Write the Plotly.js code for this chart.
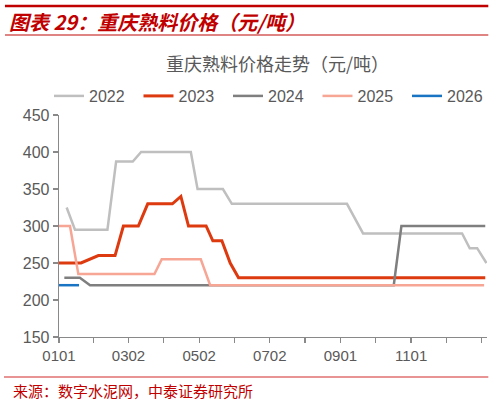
<!DOCTYPE html>
<html>
<head>
<meta charset="utf-8">
<script src="https://cdn.plot.ly/plotly-3.0.1.min.js"></script>
<style>
html,body{margin:0;padding:0;background:#fff;}
#chart{width:493px;height:400px;}
</style>
</head>
<body>
<div id="chart"></div>
<script>
// x = days since Jan 1 (0101 = 0)
const seriesNames = ['2022', '2023', '2024', '2025', '2026'];

const x2022 = [6.6, 13.8, 41.8, 49.3, 63.7, 70.9, 113.8, 119.6, 141.5, 149.2, 248.6, 262.5, 348, 354.6, 361, 369];
const y2022 = [325, 295, 295, 387, 387, 400, 400, 350, 350, 330, 330, 290, 290, 270, 270, 250];

const x2023 = [0, 19, 34, 48.4, 55.6, 68.5, 76.6, 97.9, 105.2, 111.8, 127, 132.8, 140.6, 147.8, 155, 368];
const y2023 = [250, 250, 260, 260, 300, 300, 330, 330, 340, 300, 300, 280, 280, 250, 230, 230];

const x2024 = [4.6, 18, 26.8, 289, 295.6, 368];
const y2024 = [230, 230, 220, 220, 300, 300];

const x2025 = [0, 9.5, 16.7, 82.4, 88.7, 122.4, 130.5, 367];
const y2025 = [300, 300, 235, 235, 255, 255, 220, 220];

const x2026 = [0, 17.3];
const y2026 = [220, 220];

const tickDays = [0, 30, 60, 90.5, 121, 151.5, 182, 212.5, 243, 273.5, 304, 334.5, 365];
const tickLabels = ['0101', '', '0302', '', '0502', '', '0702', '', '0901', '', '1101', '', ''];

const chartTitle = '重庆熟料价格走势（元/吨）';
const figTitle = '图表 29：重庆熟料价格（元/吨）';
const sourceText = '来源：数字水泥网，中泰证券研究所';

const colors = ['#bfbfbf', '#dd3a10', '#7f7f7f', '#f7a594', '#1a74c4'];
const widths = [2.5, 3, 2.5, 2.5, 2.5];
const xs = [x2022, x2023, x2024, x2025, x2026];
const ys = [y2022, y2023, y2024, y2025, y2026];

const traces = seriesNames.map((n, i) => ({
  type: 'scatter', mode: 'lines', name: n,
  x: xs[i], y: ys[i],
  line: {color: colors[i], width: widths[i]},
  hoverinfo: 'skip'
}));

const font = 'Liberation Sans, Arial, sans-serif';
const cjk = 'Noto Sans CJK SC, sans-serif';

const ML = 59, MR = 6.3, MT = 115, MB = 63, W = 493, H = 400;
function px2paperX(px) { return (px - ML) / (W - ML - MR); }
function px2paperY(py) { return (H - MB - py) / (H - MT - MB); }

const layout = {
  width: W, height: H,
  margin: {l: ML, r: MR, t: MT, b: MB, autoexpand: false},
  paper_bgcolor: '#fff', plot_bgcolor: '#fff',
  showlegend: true,
  legend: {
    orientation: 'h', xref: 'paper', yref: 'paper',
    x: px2paperX(49), y: px2paperY(96), xanchor: 'left', yanchor: 'middle',
    entrywidth: 44.5, entrywidthmode: 'pixels',
    font: {family: font, size: 16, color: '#595959'},
    bgcolor: 'rgba(0,0,0,0)', traceorder: 'normal'
  },
  xaxis: {
    range: [0, 369.5], showgrid: false, zeroline: false,
    showline: true, linecolor: '#898989', linewidth: 1.3,
    ticks: 'outside', ticklen: 5, tickcolor: '#898989', tickwidth: 1.3,
    tickmode: 'array', tickvals: tickDays, ticktext: tickLabels,
    tickfont: {family: font, size: 15, color: '#595959'}
  },
  yaxis: {
    range: [150, 450], dtick: 50, showgrid: false, zeroline: false,
    showline: true, linecolor: '#898989', linewidth: 1.3,
    ticks: 'outside', ticklen: 5, tickcolor: '#898989', tickwidth: 1.3,
    tickfont: {family: font, size: 16, color: '#595959'}
  },
  shapes: [
    {type: 'line', xref: 'paper', yref: 'paper', x0: px2paperX(5), x1: px2paperX(488), y0: px2paperY(6), y1: px2paperY(6), line: {color: '#c00000', width: 2.5}},
    {type: 'line', xref: 'paper', yref: 'paper', x0: px2paperX(5), x1: px2paperX(488), y0: px2paperY(35), y1: px2paperY(35), line: {color: '#d65a5a', width: 1.3}},
    {type: 'line', xref: 'paper', yref: 'paper', x0: px2paperX(4), x1: px2paperX(488), y0: px2paperY(377), y1: px2paperY(377), line: {color: '#e07070', width: 1.3}}
  ],
  annotations: [
    {text: '<b><i>' + figTitle + '</i></b>', xref: 'paper', yref: 'paper', showarrow: false,
     xanchor: 'left', yanchor: 'middle', x: px2paperX(7), y: px2paperY(21),
     font: {family: cjk, size: 20, color: '#c00000'}},
    {text: chartTitle, xref: 'paper', yref: 'paper', showarrow: false,
     xanchor: 'center', yanchor: 'middle', x: px2paperX(277), y: px2paperY(63),
     font: {family: cjk, size: 18, color: '#595959'}},
    {text: sourceText, xref: 'paper', yref: 'paper', showarrow: false,
     xanchor: 'left', yanchor: 'middle', x: px2paperX(11), y: px2paperY(390),
     font: {family: cjk, size: 15, color: '#c00000'}}
  ]
};

Plotly.newPlot('chart', traces, layout, {displayModeBar: false, staticPlot: true});
</script>
</body>
</html>
